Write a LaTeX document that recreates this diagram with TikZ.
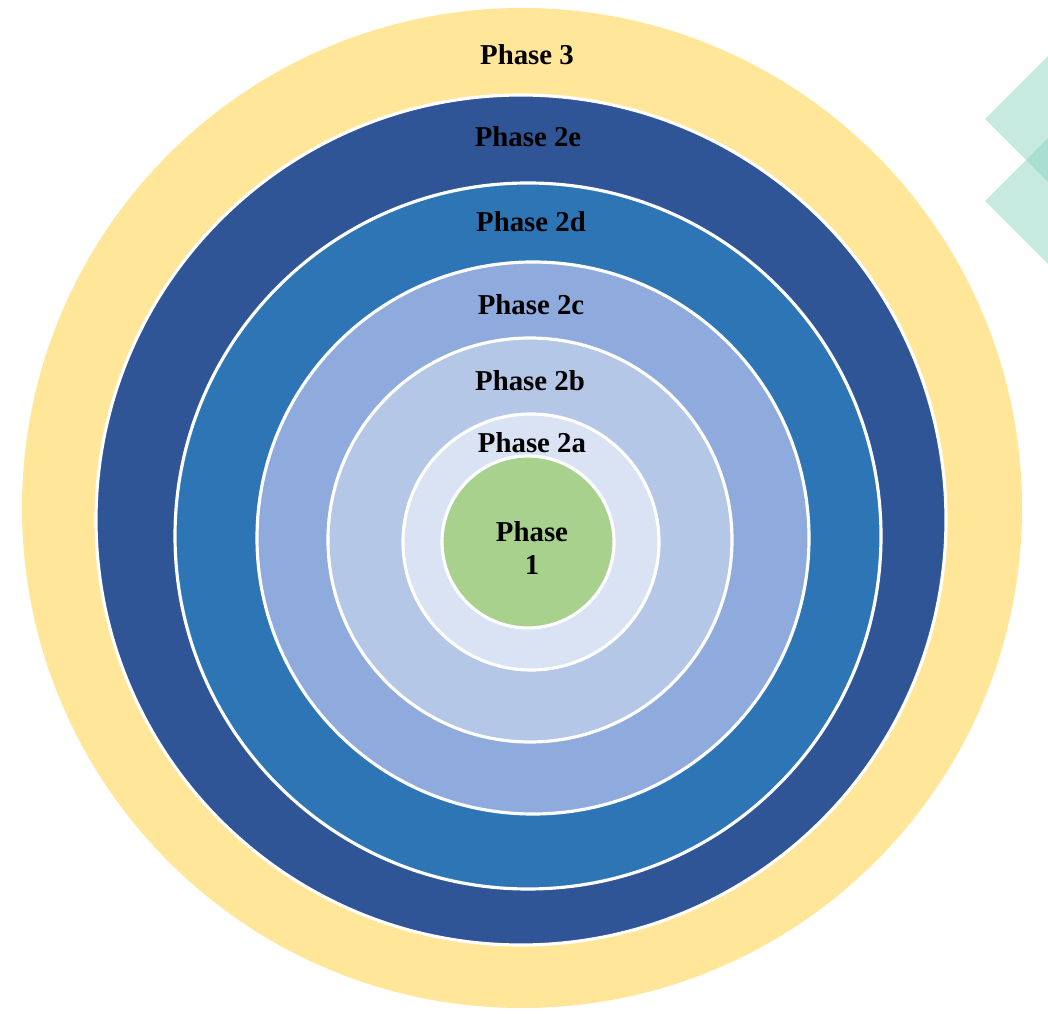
\documentclass[tikz,border=0pt]{standalone}
\usepackage{fontspec}
\setmainfont{Liberation Serif}
\usepackage{tikz}

\definecolor{phasethree}{HTML}{FFE699}
\definecolor{phasetwoe}{HTML}{2F5597}
\definecolor{phasetwod}{HTML}{2E75B6}
\definecolor{phasetwoc}{HTML}{8FAADC}
\definecolor{phasetwob}{HTML}{B4C7E7}
\definecolor{phasetwoa}{HTML}{DAE3F3}
\definecolor{phaseone}{HTML}{A9D18E}
\definecolor{tealdeco}{HTML}{8DD5C2}

\begin{document}
\begin{tikzpicture}[ring/.style={circle, draw=white, line width=0.9pt, inner sep=0pt},
        phase/.style={font=\bfseries\fontsize{8.2}{9.4}\selectfont, text=black, align=center},
        deco/.style={fill=tealdeco, fill opacity=0.5}]

        \useasboundingbox (0,0) rectangle (10.48,10.13);
        \clip (0,0) rectangle (10.48,10.13);

        % --- RINGS (outside in) ---
        \node[ring, draw=none, fill=phasethree, minimum size=10.00cm] (p3) at (5.22,5.05) {};
        \node[ring, fill=phasetwoe, minimum size=8.50cm] (p2e) at (5.21,4.93) {};
        \node[ring, fill=phasetwod, minimum size=7.06cm] (p2d) at (5.28,4.77) {};
        \node[ring, fill=phasetwoc, minimum size=5.52cm] (p2c) at (5.33,4.75) {};
        \node[ring, fill=phasetwob, minimum size=4.04cm] (p2b) at (5.30,4.73) {};
        \node[ring, fill=phasetwoa, minimum size=2.56cm] (p2a) at (5.31,4.71) {};
        \node[ring, fill=phaseone, minimum size=1.72cm] (p1) at (5.28,4.71) {};

        % --- LABELS ---
        \node[phase] (l3) at (5.27,9.58) {Phase 3};
        \node[phase] (l2e) at (5.28,8.76) {Phase 2e};
        \node[phase] (l2d) at (5.31,7.91) {Phase 2d};
        \node[phase] (l2c) at (5.31,7.08) {Phase 2c};
        \node[phase] (l2b) at (5.30,6.32) {Phase 2b};
        \node[phase] (l2a) at (5.32,5.70) {Phase 2a};
        \node[phase] (l1) at (5.32,4.65) {Phase\\1};

        % --- CORNER DECORATION ---
        \fill[deco] (9.85,8.94) -- (10.65,9.74) -- (11.45,8.94) -- (10.65,8.14) -- cycle;
        \fill[deco] (9.85,8.12) -- (10.65,8.92) -- (11.45,8.12) -- (10.65,7.32) -- cycle;

    \end{tikzpicture}
\end{document}
